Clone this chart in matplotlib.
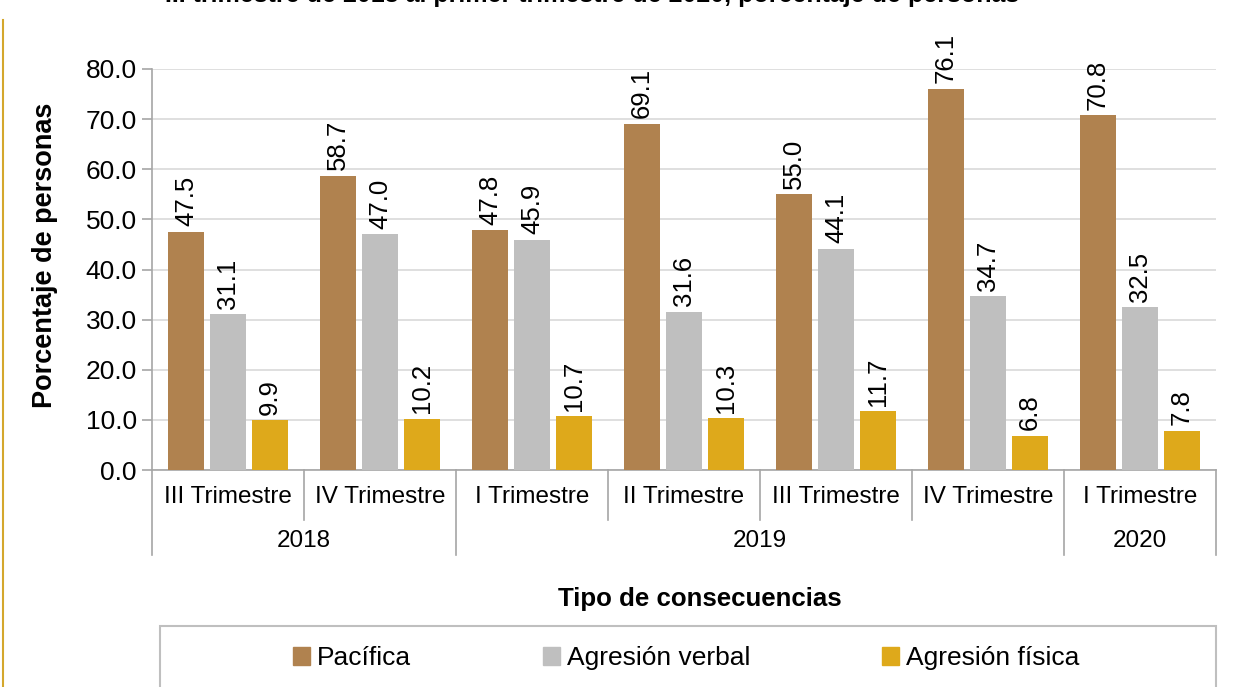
import matplotlib.pyplot as plt
from matplotlib.lines import Line2D
from matplotlib.patches import Rectangle, Patch
import matplotlib.transforms as mtransforms

plt.rcParams['font.family'] = ['Liberation Sans', 'DejaVu Sans']

# Datos
trimestres = ['III Trimestre', 'IV Trimestre', 'I Trimestre', 'II Trimestre',
              'III Trimestre', 'IV Trimestre', 'I Trimestre']
anios = ['2018', '2019', '2020']
anios_grupos = [2, 4, 1]
pacifica = [47.5, 58.7, 47.8, 69.1, 55.0, 76.1, 70.8]
verbal = [31.1, 47.0, 45.9, 31.6, 44.1, 34.7, 32.5]
fisica = [9.9, 10.2, 10.7, 10.3, 11.7, 6.8, 7.8]
series = ['Pacífica', 'Agresión verbal', 'Agresión física']
colores = ['#B0824F', '#BFBFBF', '#DEA91B']

fig = plt.figure(figsize=(12.36, 6.87), dpi=100)
ax = fig.add_axes([152/1236, 1-470/687, (1216-152)/1236, 401/687])

ancho = 0.237
paso = 0.276
x = list(range(len(trimestres)))
for i, (vals, col) in enumerate(zip([pacifica, verbal, fisica], colores)):
    pos = [xi + (i-1)*paso for xi in x]
    ax.bar(pos, vals, width=ancho, color=col, zorder=3)
    for p, v in zip(pos, vals):
        ax.annotate(f'{v:.1f}', (p, v), xytext=(0, 4), textcoords='offset points',
                    rotation=90, ha='center', va='bottom', fontsize=18.5)

ax.set_xlim(-0.5, len(trimestres)-0.5)
ax.set_ylim(0, 80)
ax.set_yticks(range(0, 81, 10))
ax.set_yticklabels([f'{t:.1f}' for t in range(0, 81, 10)], fontsize=19)
ax.yaxis.grid(True, color='#D9D9D9', linewidth=1.2, zorder=0)
ax.tick_params(axis='y', length=7, color='#A6A6A6', width=1.2, pad=4)
ax.set_xticks([])
for s in ['top', 'right']:
    ax.spines[s].set_visible(False)
ax.spines['left'].set_color('#A6A6A6')
ax.spines['bottom'].set_color('#A6A6A6')
ax.spines['left'].set_linewidth(1.2)
ax.spines['bottom'].set_linewidth(1.2)
fig.text(45/1236, 1-255/687, 'Porcentaje de personas', rotation=90, ha='center',
         va='center', fontsize=19.5, fontweight='bold')

# Eje de categorias de dos niveles
trans = mtransforms.blended_transform_factory(ax.transData, ax.transAxes)
limites_anio = [-0.5]
acum = -0.5
for n in anios_grupos:
    acum += n
    limites_anio.append(acum)
for b in [xi - 0.5 for xi in range(len(trimestres)+1)]:
    y0 = -0.212 if b in limites_anio else -0.125
    ax.add_line(Line2D([b, b], [0, y0], transform=trans, color='#A6A6A6',
                       linewidth=1.2, clip_on=False))
for xi, t in zip(x, trimestres):
    ax.text(xi, -0.067, t, transform=trans, ha='center', va='center', fontsize=17.5)
for a, lo, hi in zip(anios, limites_anio[:-1], limites_anio[1:]):
    ax.text((lo+hi)/2, -0.177, a, transform=trans, ha='center', va='center', fontsize=17.5)

fig.text(700/1236, 1-599/687, 'Tipo de consecuencias', ha='center', va='center',
         fontsize=18.6, fontweight='bold')

# Leyenda
fig.patches.append(Rectangle((160/1236, -0.05), (1216-160)/1236, (687-626)/687+0.05,
                             transform=fig.transFigure, facecolor='white',
                             edgecolor='#BFBFBF', linewidth=1.5))
handles = [Patch(color=c) for c in colores]
fig.legend(handles, series, loc='center', bbox_to_anchor=(686/1236, 1-658/687),
           ncol=3, frameon=False, fontsize=19, handlelength=0.65, handleheight=0.65,
           handletextpad=0.25, columnspacing=5.0)

# Linea lateral y titulo recortado
fig.add_artist(Line2D([3/1236, 3/1236], [0, 1-20/687], transform=fig.transFigure,
                      color='#D4A72C', linewidth=1.5))
fig.text(592/1236, 1-2/687, 'III trimestre de 2018 al primer trimestre de 2020, porcentaje de personas',
         ha='center', va='baseline', fontsize=18, fontweight='bold')

fig.savefig('out.png', dpi=100)
